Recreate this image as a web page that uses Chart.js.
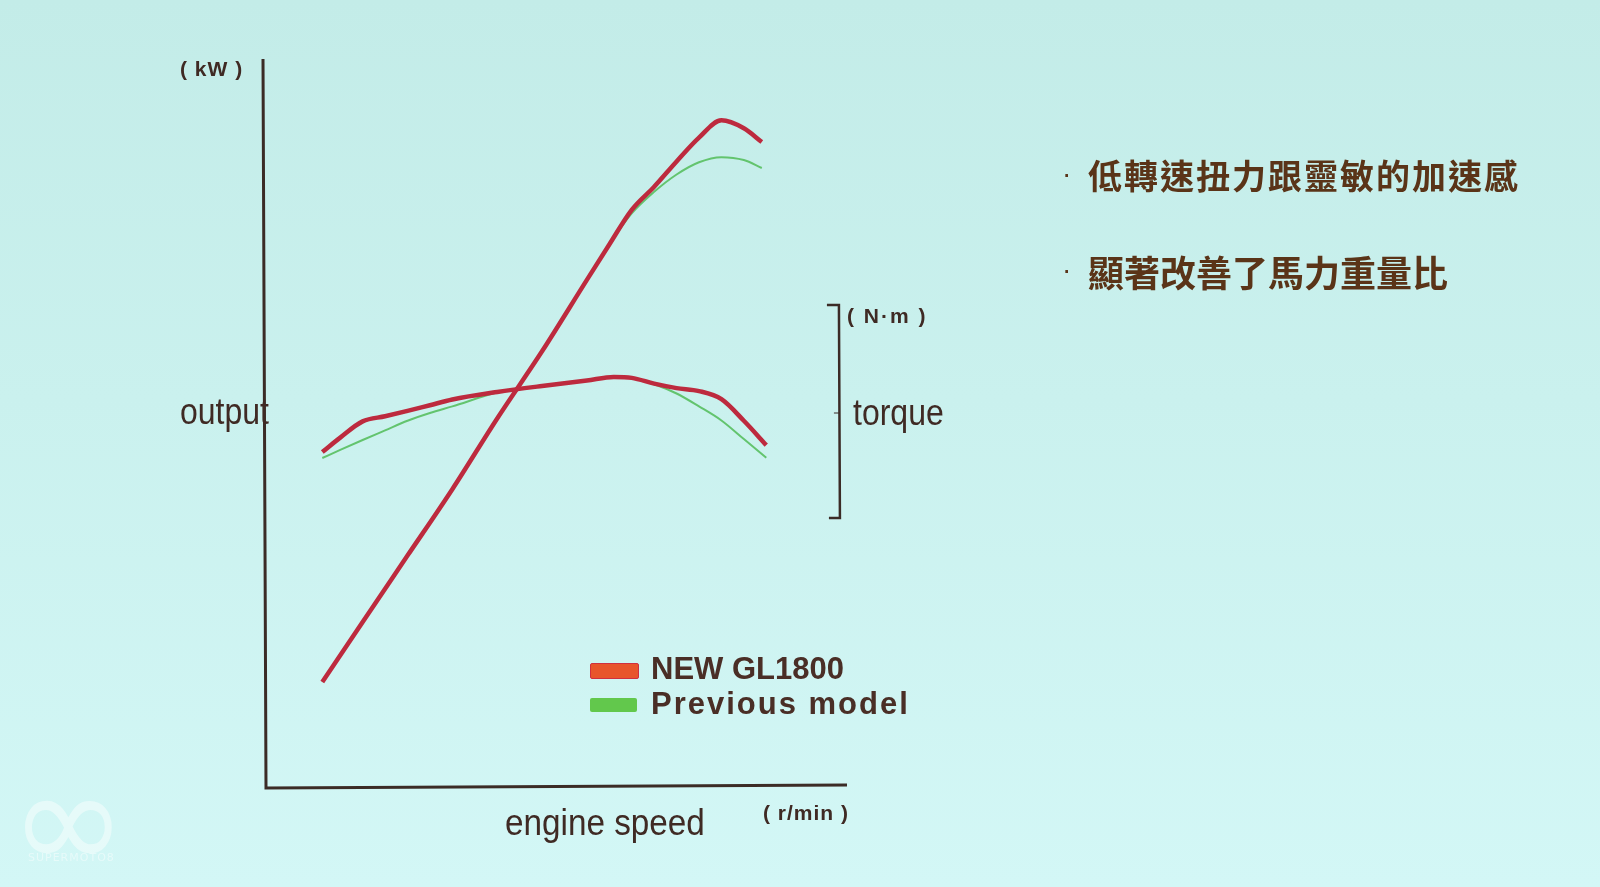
<!DOCTYPE html>
<html>
<head>
<meta charset="utf-8">
<script src="https://cdn.jsdelivr.net/npm/chart.js@4.4.1/dist/chart.umd.min.js"></script>
<style>
  html, body { margin: 0; padding: 0; }
  body {
    width: 1600px; height: 887px; overflow: hidden; position: relative;
    background: linear-gradient(180deg, #c3ece8 0%, #caf1ee 45%, #d3f7f6 100%);
    font-family: "Liberation Sans", Arial, sans-serif;
    color: #3f2a24;
  }
  #chart { position: absolute; left: 0; top: 0; }
  .lbl { position: absolute; white-space: nowrap; line-height: 1; }
  .unit { font-weight: bold; font-size: 21px; letter-spacing: 1px; }
  .axis { font-size: 32px; transform: scale(1, 1.15); transform-origin: left center; }
  .leg { font-weight: bold; font-size: 31px; color: #4a2e26; }
  .sw { position: absolute; width: 47px; height: 14px; border-radius: 2px; }
  .zh { font-family: "Noto Sans CJK TC", "Noto Sans CJK SC", sans-serif; font-weight: bold; color: #5a3418; }
  .dot { font-size: 28px; color: #5a3418; }
  .wm { color: rgba(255,255,255,0.45); font-family: "DejaVu Sans", sans-serif; }
</style>
</head>
<body>
<canvas id="chart" width="1600" height="887"></canvas>

<div class="lbl unit" style="left:180px; top:58px;">( kW )</div>
<div class="lbl axis" style="left:180px; top:395px;">output</div>
<div class="lbl unit" style="left:847px; top:305px; letter-spacing:2px;">( N·m )</div>
<div class="lbl axis" style="left:853px; top:396px;">torque</div>
<div class="lbl axis" style="left:505px; top:806px; transform:scale(1.04, 1.15);">engine speed</div>
<div class="lbl unit" style="left:763px; top:802px;">( r/min )</div>

<div class="sw" style="left:590px; top:663px; background:#e8552c; border:1px solid #d03040;"></div>
<div class="lbl leg" style="left:651px; top:653px;">NEW GL1800</div>
<div class="sw" style="left:590px; top:698px; background:#62c84c;"></div>
<div class="lbl leg" style="left:651px; top:688px; letter-spacing:2px;">Previous model</div>

<div class="lbl dot" style="left:1062px; top:160px;">·</div>
<div class="lbl zh" style="left:1088px; top:158px; font-size:34px; letter-spacing:2px;">低轉速扭力跟靈敏的加速感</div>
<div class="lbl dot" style="left:1062px; top:256px;">·</div>
<div class="lbl zh" style="left:1088px; top:253px; font-size:36px; letter-spacing:0px;">顯著改善了馬力重量比</div>

<div class="lbl wm" style="left:10px; top:751px; font-size:140px;">∞</div>
<div class="lbl wm" style="left:28px; top:852px; font-size:11px; letter-spacing:1px;">SUPERMOTO8</div>

<script>
// engine speed (r/min) for the output curves
const powerRpm = [1050, 1500, 2000, 2500, 3000, 3500, 4000, 4250, 4500, 4750, 5000, 5250, 5500, 5750, 5950];
// output (kW)
const newPower  = [14.7, 23.0, 32.2, 41.4, 51.2, 60.5, 70.4, 75.3, 80.1, 83.3, 86.8, 90.1, 92.5, 91.4, 89.5];
const prevPower = [14.7, 23.0, 32.2, 41.4, 51.2, 60.5, 70.4, 75.3, 79.6, 82.6, 85.0, 86.7, 87.4, 87.0, 85.9];

// engine speed (r/min) for the torque curves
const torqueRpm = [1050, 1250, 1500, 1750, 2000, 2250, 2500, 3000, 3500, 4000, 4300, 4500, 4750, 5000, 5250, 5500, 5750, 6000];
// torque (N·m)
const newTorque  = [147.0, 151.8, 157.2, 158.9, 160.7, 162.6, 164.5, 167.0, 169.0, 170.8, 172.0, 171.7, 169.8, 168.3, 167.3, 164.6, 157.4, 149.3];
const prevTorque = [145.0, 147.7, 151.0, 154.2, 157.4, 160.0, 162.2, 166.8, 169.0, 170.8, 172.0, 171.7, 169.6, 166.5, 162.2, 157.5, 151.3, 145.1];

// torque scale bracket (N·m) and where it stands on the speed axis
const torqueBracket = [125, 196];
const torqueMidTick = 160;
const bracketRpm = 6810;

const toPoints = (xs, ys) => xs.map((x, i) => ({ x: x, y: ys[i] }));

const redColor = '#bd2a3e';
const greenColor = '#63c46e';

const axesAndBracket = {
  id: 'axesAndBracket',
  beforeDatasetsDraw(chart) {
    const { ctx, chartArea: a, scales } = chart;
    ctx.save();
    ctx.strokeStyle = '#3b2b26';
    ctx.lineWidth = 3;
    ctx.beginPath();
    ctx.moveTo(a.left - 1, a.top);
    ctx.lineTo(a.left + 2, a.bottom);
    ctx.lineTo(a.right, a.bottom - 3);
    ctx.stroke();

    const bx = scales.x.getPixelForValue(bracketRpm);
    const yTop = scales.y2.getPixelForValue(torqueBracket[1]);
    const yBot = scales.y2.getPixelForValue(torqueBracket[0]);
    const yMid = scales.y2.getPixelForValue(torqueMidTick);
    ctx.lineWidth = 2.5;
    ctx.beginPath();
    ctx.moveTo(bx - 12, yTop);
    ctx.lineTo(bx, yTop);
    ctx.lineTo(bx + 1, yBot);
    ctx.lineTo(bx - 10, yBot);
    ctx.stroke();
    ctx.lineWidth = 1;
    ctx.beginPath();
    ctx.moveTo(bx - 5, yMid);
    ctx.lineTo(bx, yMid);
    ctx.stroke();
    ctx.restore();
  }
};

const line = (label, pts, axis, color, width) => ({
  label: label,
  data: pts,
  yAxisID: axis,
  borderColor: color,
  borderWidth: width,
  pointRadius: 0,
  fill: false,
  cubicInterpolationMode: 'monotone'
});

new Chart(document.getElementById('chart'), {
  type: 'line',
  data: {
    datasets: [
      line('NEW GL1800 output', toPoints(powerRpm, newPower), 'y', redColor, 4.5),
      line('NEW GL1800 torque', toPoints(torqueRpm, newTorque), 'y2', redColor, 4.5),
      line('Previous model output', toPoints(powerRpm, prevPower), 'y', greenColor, 2),
      line('Previous model torque', toPoints(torqueRpm, prevTorque), 'y2', greenColor, 2)
    ]
  },
  options: {
    responsive: false,
    animation: false,
    layout: { padding: { left: 264, top: 59, right: 753, bottom: 99 } },
    plugins: { legend: { display: false }, tooltip: { enabled: false } },
    scales: {
      x: { type: 'linear', display: false, min: 400, max: 6900 },
      y: { display: false, min: 0, max: 101 },
      y2: { display: false, min: 35, max: 278 }
    }
  },
  plugins: [axesAndBracket]
});
</script>
</body>
</html>
